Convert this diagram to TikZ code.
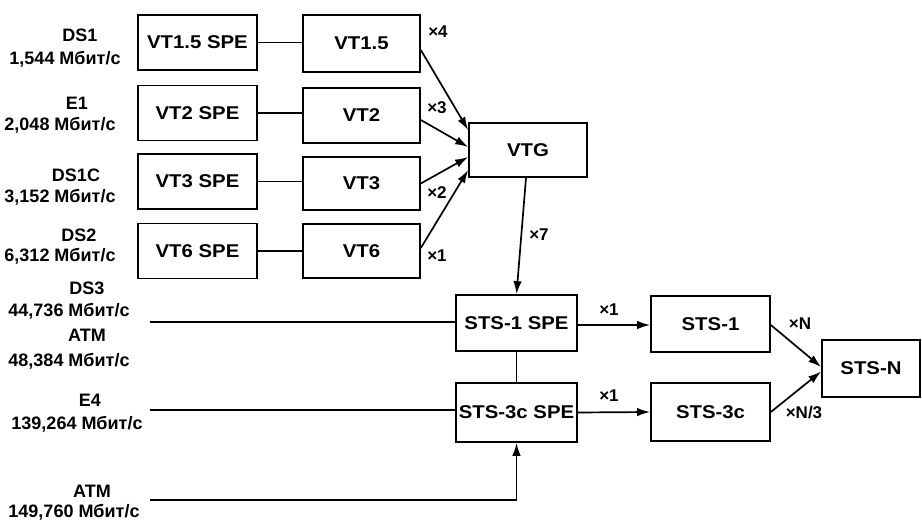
\documentclass[tikz,border=0pt]{standalone}
\usepackage{fontspec}
\setmainfont{Liberation Sans}
\newfontfamily\boxfont[FakeStretch=1.1]{Liberation Sans}
\usetikzlibrary{arrows.meta,calc}
\begin{document}
\begin{tikzpicture}[x=1pt,y=-1pt,
  box/.style={draw,line width=1.7pt,inner sep=0pt,minimum width=119pt,minimum height=55pt,
    font=\boxfont\fontsize{18.5}{20}\selectfont\bfseries,text height=13pt,text depth=0pt},
  lab/.style={font=\fontsize{18}{20}\selectfont\bfseries,anchor=base,inner sep=0pt},
  mul/.style={font=\fontsize{17}{19}\selectfont\bfseries,inner sep=0pt,text height=12pt,text depth=0pt},
  con/.style={line width=1.7pt},
  arr/.style={line width=1.7pt,-{Latex[length=13pt,width=8.5pt]}}]
\useasboundingbox (0,0) rectangle (922,521);
% left labels
\node[lab] (l1) at (80,42) {DS1};
\node[lab] (r1) at (65,65) {1,544 Мбит/с};
\node[lab] (l2) at (77,110) {E1};
\node[lab] (r2) at (60,131) {2,048 Мбит/с};
\node[lab] (l3) at (76,182) {DS1C};
\node[lab] (r3) at (60,203) {3,152 Мбит/с};
\node[lab] (l4) at (79,242) {DS2};
\node[lab] (r4) at (60,262) {6,312 Мбит/с};
\node[lab] (l5) at (87,295) {DS3};
\node[lab] (r5) at (69,317) {44,736 Мбит/с};
\node[lab] (l6) at (87,342) {ATM};
\node[lab] (r6) at (69,367) {48,384 Мбит/с};
\node[lab] (l7) at (90,407) {E4};
\node[lab] (r7) at (77,430) {139,264 Мбит/с};
\node[lab] (l8) at (92,497) {ATM};
\node[lab] (r8) at (74,518) {149,760 Мбит/с};
% VT SPE boxes
\node[box] (s1) at (197.5,42.5) {VT1.5 SPE};
\node[box] (s2) at (197.5,113) {VT2 SPE};
\node[box] (s3) at (197.5,181.5) {VT3 SPE};
\node[box] (s4) at (197.5,251) {VT6 SPE};
% VT boxes
\node[box,minimum width=117pt,minimum height=57pt] (v1) at (361.5,43.5) {VT1.5};
\node[box,minimum width=117pt] (v2) at (361.5,115.5) {VT2};
\node[box,minimum width=117pt,minimum height=53pt] (v3) at (361.5,183.5) {VT3};
\node[box,minimum width=117pt,minimum height=54pt] (v4) at (361.5,251) {VT6};
\node[box,minimum width=118pt,minimum height=54pt] (vtg) at (528,150) {VTG};
% STS
\node[box,minimum width=121pt,minimum height=56pt] (p1) at (516.5,323) {STS-1 SPE};
\node[box,minimum width=121pt,minimum height=59pt] (p3) at (516.5,412.5) {STS-3c SPE};
\node[box,minimum width=119pt,minimum height=56pt] (t1) at (710.5,324) {STS-1};
\node[box,minimum width=119pt,minimum height=58pt] (t3) at (710.5,412) {STS-3c};
\node[box,minimum width=98pt,minimum height=57pt] (tn) at (871,368.5) {STS-N};
% SPE -> VT
\draw[con] (s1.east) -- (s1.east -| v1.west);
\draw[con] (s2.east) -- (s2.east -| v2.west);
\draw[con] (s3.east) -- (s3.east -| v3.west);
\draw[con] (s4.east) -- (s4.east -| v4.west);
% VT -> VTG
\draw[arr] ([yshift=-6.5pt]v1.east) -- ([yshift=20pt]vtg.west);
\draw[arr] ([yshift=-4.5pt]v2.east) -- ([yshift=3pt]vtg.west);
\draw[arr] (v3.east) -- ([yshift=-7pt]vtg.west);
\draw[arr] ([yshift=3pt]v4.east) -- ([yshift=-20pt]vtg.west);
\node[mul] (m4) at (438,32) {×4};
\node[mul] (m3) at (437,108) {×3};
\node[mul] (m2) at (437,193) {×2};
\node[mul] (m1) at (437,256) {×1};
% VTG -> STS-1 SPE
\draw[arr] ([xshift=-2pt]vtg.south) -- (p1.north);
\node[mul] (m7) at (539,235) {×7};
% inputs
\coordinate (i1) at (150,322);
\coordinate (i2) at (150,410);
\coordinate (i3) at (150,500);
\draw[con] (i1) -- (i1 -| p1.west);
\draw[con] (i2) -- (i2 -| p3.west);
\draw[arr] (i3) -| (p3.south);
\draw[con] (p1.south) -- (p3.north);
% SPE -> STS
\draw[arr] ([yshift=-2pt]p1.east) -- ([yshift=-1pt]t1.west);
\draw[arr] (p3.east) -- (t3.west);
\node[mul] (a1) at (609,310) {×1};
\node[mul] (a3) at (609,396) {×1};
% STS -> STS-N
\draw[arr] ([yshift=-1pt]t1.east) -- ([yshift=1.5pt]tn.west);
\draw[arr] (t3.east) -- ([yshift=-3pt]tn.west);
\node[mul] (n1) at (800,324) {×N};
\node[mul] (n3) at (804,413) {×N/3};
\end{tikzpicture}
\end{document}
